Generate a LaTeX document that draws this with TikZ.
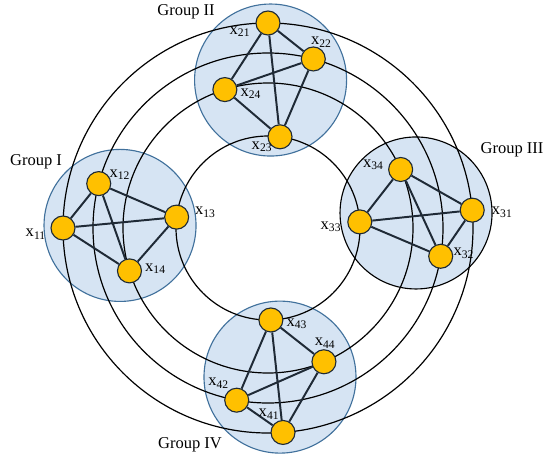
\documentclass[tikz,border=0pt]{standalone}
\usepackage{fontspec}
\setmainfont{Liberation Serif}
\usetikzlibrary{calc}
\definecolor{ink}{HTML}{1F2A36}
\definecolor{grpfill}{HTML}{D6E4F3}
\definecolor{grpline}{HTML}{41719C}
\definecolor{gold}{HTML}{FFC000}

\newcommand{\xs}[1]{x\textsubscript{#1}}

\begin{document}
\begin{tikzpicture}[
    every node/.style={font=\fontsize{11.75}{14}\selectfont, text=black},
    group/.style={circle, draw=grpline, fill=grpfill, line width=0.8pt,
        minimum size=3.8cm, inner sep=0pt},
    ring/.style={draw=black, line width=0.85pt},
    vertex/.style={circle, draw=ink, fill=gold, line width=0.8pt,
        minimum size=0.6cm, inner sep=0pt},
    link/.style={draw=ink, line width=1.4pt},
    lbl/.style={inner sep=0pt},
]
\useasboundingbox (-6.7,-5.75) rectangle (6.9,5.7);
\coordinate (O) at (0,0);

% Groups
\node[group] (g1) at (179:3.7) {};
\node[group] (g2) at (89:3.7) {};
\node[group, draw=black] (g3) at (5.8:3.72) {};
\node[group] (g4) at (-85.4:3.74) {};

\node (gl1) at (-5.8, 1.65) {Group I};
\node (gl2) at (-2.05, 5.4) {Group II};
\node (gl3) at (6.1, 1.95) {Group III};
\node (gl4) at (-1.95, -5.42) {Group IV};

% Rings
\draw[ring] (O) circle (5.125);
\draw[ring] (O) circle (4.375);
\draw[ring] (O) circle (3.625);
\draw[ring] (O) circle (2.3);

% Group I
\node[vertex] (x11) at (180:5.125) {};
\node[vertex] (x12) at (165.3:4.375) {};
\node[vertex] (x13) at (173.2:2.3) {};
\node[vertex] (x14) at (197.2:3.625) {};

% Group II
\node[vertex] (x21) at (90:5.125) {};
\node[vertex] (x22) at (75:4.375) {};
\node[vertex] (x23) at (82.5:2.3) {};
\node[vertex] (x24) at (107.3:3.625) {};

% Group III
\node[vertex] (x31) at (5:5.125) {};
\node[vertex] (x32) at (-9.3:4.375) {};
\node[vertex] (x33) at (3.8:2.3) {};
\node[vertex] (x34) at (23.8:3.625) {};

% Group IV
\node[vertex] (x41) at (-85.8:5.125) {};
\node[vertex] (x42) at (-100.3:4.375) {};
\node[vertex] (x43) at (-88.2:2.3) {};
\node[vertex] (x44) at (-67.3:3.625) {};

% Links inside each group
\draw[link] (x11) -- (x12) -- (x13) -- (x14) -- (x11) -- (x13) (x12) -- (x14);
\draw[link] (x21) -- (x22) -- (x23) -- (x24) -- (x21) -- (x23) (x22) -- (x24);
\draw[link] (x31) -- (x32) -- (x33) -- (x34) -- (x31) -- (x33) (x32) -- (x34);
\draw[link] (x41) -- (x42) -- (x43) -- (x44) -- (x41) -- (x43) (x42) -- (x44);

% Labels
\node[lbl] (l11) at ($(x11)+(-0.68,-0.15)$) {\xs{11}};
\node[lbl] (l12) at ($(x12)+(0.53,0.22)$) {\xs{12}};
\node[lbl] (l13) at ($(x13)+(0.72,0.12)$) {\xs{13}};
\node[lbl] (l14) at ($(x14)+(0.65,0.05)$) {\xs{14}};
\node[lbl] (l21) at ($(x21)+(-0.7,-0.22)$) {\xs{21}};
\node[lbl] (l22) at ($(x22)+(0.2,0.42)$) {\xs{22}};
\node[lbl] (l23) at ($(x23)+(-0.45,-0.25)$) {\xs{23}};
\node[lbl] (l24) at ($(x24)+(0.65,-0.1)$) {\xs{24}};
\node[lbl] (l31) at ($(x31)+(0.75,-0.05)$) {\xs{31}};
\node[lbl] (l32) at ($(x32)+(0.58,0.07)$) {\xs{32}};
\node[lbl] (l33) at ($(x33)+(-0.72,-0.12)$) {\xs{33}};
\node[lbl] (l34) at ($(x34)+(-0.68,0.12)$) {\xs{34}};
\node[lbl] (l41) at ($(x41)+(-0.35,0.45)$) {\xs{41}};
\node[lbl] (l42) at ($(x42)+(-0.45,0.42)$) {\xs{42}};
\node[lbl] (l43) at ($(x43)+(0.65,-0.1)$) {\xs{43}};
\node[lbl] (l44) at ($(x44)+(0.03,0.47)$) {\xs{44}};

\end{tikzpicture}
\end{document}
